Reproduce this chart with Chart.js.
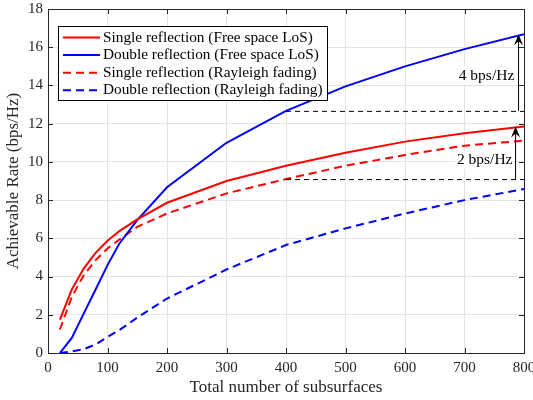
<!DOCTYPE html>
<html>
<head>
<meta charset="utf-8">
<script src="https://cdn.jsdelivr.net/npm/chart.js@4.4.7/dist/chart.umd.min.js"></script>
<style>
  html, body { margin: 0; padding: 0; background: #fff; }
  #wrap { width: 533px; height: 400px; }
</style>
</head>
<body>
<div id="wrap"><canvas id="chart"></canvas></div>
<script>
const subsurfaces = [20, 40, 60, 80, 100, 120, 150, 200, 300, 400, 500, 600, 700, 800];
const singleFreeSpace = [1.75, 3.32, 4.42, 5.24, 5.87, 6.38, 6.99, 7.86, 9.0, 9.8, 10.48, 11.06, 11.5, 11.85];
const doubleFreeSpace = [0, 0.79, 2.06, 3.32, 4.6, 5.73, 6.95, 8.67, 11.0, 12.67, 13.95, 15.0, 15.9, 16.68];
const singleRayleigh = [1.23, 2.94, 4.07, 4.86, 5.47, 5.94, 6.6, 7.3, 8.35, 9.1, 9.8, 10.36, 10.85, 11.11];
const doubleRayleigh = [0, 0.08, 0.2, 0.45, 0.84, 1.2, 1.85, 2.85, 4.37, 5.65, 6.52, 7.3, 8.0, 8.58];

const seriesLabels = [
  'Single reflection (Free space LoS)',
  'Double reflection (Free space LoS)',
  'Single reflection (Rayleigh fading)',
  'Double reflection (Rayleigh fading)'
];

// gap annotations: dashed guide from x0 to x1 at y0, arrow at xa from y0 up to y1
const gapLabels = ['4 bps/Hz', '2 bps/Hz'];
const gapGuideFrom = [400, 400];
const gapGuideTo = [805, 800];
const gapBase = [12.67, 9.1];
const gapTop = [16.68, 11.85];
const gapArrowX = [790, 785];
const gapLabelPos = [[737, 14.5], [734, 10.1]];

const FONT = '"Liberation Serif", "Times New Roman", serif';
const AXIS = '#262626';

function pts(ys) {
  return subsurfaces.map((x, i) => ({ x: x, y: ys[i] }));
}

const styles = [
  { color: '#ff0000', dash: [] },
  { color: '#0000ff', dash: [] },
  { color: '#ff0000', dash: [8, 5] },
  { color: '#0000ff', dash: [8, 5] }
];

const seriesData = [singleFreeSpace, doubleFreeSpace, singleRayleigh, doubleRayleigh];

const matlabPlugin = {
  id: 'matlab',
  beforeDraw(chart) {
    const ctx = chart.ctx;
    ctx.save();
    ctx.fillStyle = '#fff';
    ctx.fillRect(0, 0, chart.width, chart.height);
    ctx.restore();
  },
  afterDatasetsDraw(chart) {
    const ctx = chart.ctx;
    const xs = chart.scales.x, ys = chart.scales.y;
    const a = chart.chartArea;
    ctx.save();

    // gap annotations
    for (let i = 0; i < gapLabels.length; i++) {
      const y0 = ys.getPixelForValue(gapBase[i]);
      const y1 = ys.getPixelForValue(gapTop[i]);
      const xa = xs.getPixelForValue(gapArrowX[i]);
      ctx.strokeStyle = '#000';
      ctx.lineWidth = 1;
      ctx.setLineDash([5, 4]);
      ctx.beginPath();
      ctx.moveTo(xs.getPixelForValue(gapGuideFrom[i]), y0 + 0.5);
      ctx.lineTo(xs.getPixelForValue(gapGuideTo[i]), y0 + 0.5);
      ctx.stroke();
      ctx.setLineDash([]);
      ctx.beginPath();
      ctx.moveTo(xa + 0.5, y0);
      ctx.lineTo(xa + 0.5, y1 + 4);
      ctx.stroke();
      // arrow head
      ctx.fillStyle = '#000';
      ctx.beginPath();
      ctx.moveTo(xa + 0.5, y1);
      ctx.lineTo(xa + 5, y1 + 11);
      ctx.lineTo(xa + 0.5, y1 + 7);
      ctx.lineTo(xa - 4, y1 + 11);
      ctx.closePath();
      ctx.fill();

      ctx.font = '15.5px ' + FONT;
      ctx.textAlign = 'center';
      ctx.textBaseline = 'middle';
      const tx = xs.getPixelForValue(gapLabelPos[i][0]);
      const ty = ys.getPixelForValue(gapLabelPos[i][1]);
      const w = ctx.measureText(gapLabels[i]).width;
      ctx.fillStyle = '#fff';
      ctx.fillRect(tx - w / 2 - 2, ty - 9, w + 4, 18);
      ctx.fillStyle = '#000';
      ctx.fillText(gapLabels[i], tx, ty);
    }

    // box and inward ticks
    ctx.strokeStyle = AXIS;
    ctx.lineWidth = 1;
    ctx.strokeRect(Math.round(a.left) + 0.5, Math.round(a.top) + 0.5,
      Math.round(a.right - a.left), Math.round(a.bottom - a.top));
    const tl = 5;
    ctx.beginPath();
    xs.ticks.forEach(t => {
      const px = Math.round(xs.getPixelForValue(t.value)) + 0.5;
      ctx.moveTo(px, a.bottom); ctx.lineTo(px, a.bottom - tl);
      ctx.moveTo(px, a.top); ctx.lineTo(px, a.top + tl);
    });
    ys.ticks.forEach(t => {
      const py = Math.round(ys.getPixelForValue(t.value)) + 0.5;
      ctx.moveTo(a.left, py); ctx.lineTo(a.left + tl, py);
      ctx.moveTo(a.right, py); ctx.lineTo(a.right - tl, py);
    });
    ctx.stroke();

    // legend
    const lx = 58, ly = 26, lw = 269, lh = 74;
    ctx.fillStyle = '#fff';
    ctx.fillRect(lx, ly, lw, lh);
    ctx.strokeStyle = '#000';
    ctx.strokeRect(lx + 0.5, ly + 0.5, lw, lh);
    ctx.font = '15.3px ' + FONT;
    ctx.textAlign = 'left';
    ctx.textBaseline = 'middle';
    chart.data.datasets.forEach((ds, i) => {
      const ry = 37.5 + i * 17.6;
      ctx.strokeStyle = ds.borderColor;
      ctx.lineWidth = 2;
      ctx.setLineDash(ds.borderDash || []);
      ctx.beginPath();
      ctx.moveTo(63, ry);
      ctx.lineTo(100, ry);
      ctx.stroke();
      ctx.setLineDash([]);
      ctx.fillStyle = '#000';
      ctx.fillText(ds.label, 103, ry);
    });
    ctx.restore();
  }
};

new Chart(document.getElementById('chart'), {
  type: 'line',
  data: {
    datasets: seriesData.map((d, i) => ({
      label: seriesLabels[i],
      data: pts(d),
      borderColor: styles[i].color,
      borderDash: styles[i].dash,
      borderWidth: 2,
      pointRadius: 0,
      fill: false,
      tension: 0
    }))
  },
  options: {
    responsive: true,
    maintainAspectRatio: false,
    animation: false,
    layout: { padding: { top: 9, right: 9, left: 0, bottom: 0 } },
    plugins: { legend: { display: false }, tooltip: { enabled: false } },
    scales: {
      x: {
        type: 'linear',
        min: 0,
        max: 800,
        ticks: { stepSize: 100, color: AXIS, font: { family: FONT, size: 15 }, padding: 6, maxRotation: 0 },
        grid: { color: '#e3e3e3', drawTicks: false },
        border: { color: AXIS },
        title: { display: true, text: 'Total number of subsurfaces', color: AXIS, font: { family: FONT, size: 17 }, padding: { top: 1, bottom: 2 } },
        afterFit(scale) { scale.height = 47; scale.paddingLeft = 0; scale.paddingRight = 0; }
      },
      y: {
        min: 0,
        max: 18,
        ticks: { stepSize: 2, color: AXIS, font: { family: FONT, size: 15 }, padding: 5 },
        grid: { color: '#e3e3e3', drawTicks: false },
        border: { color: AXIS },
        title: { display: true, text: 'Achievable Rate (bps/Hz)', color: AXIS, font: { family: FONT, size: 17 }, padding: { top: 3, bottom: 2 } },
        afterFit(scale) { scale.width = 48; scale.paddingTop = 0; scale.paddingBottom = 0; }
      }
    }
  },
  plugins: [matlabPlugin]
});
</script>
</body>
</html>
